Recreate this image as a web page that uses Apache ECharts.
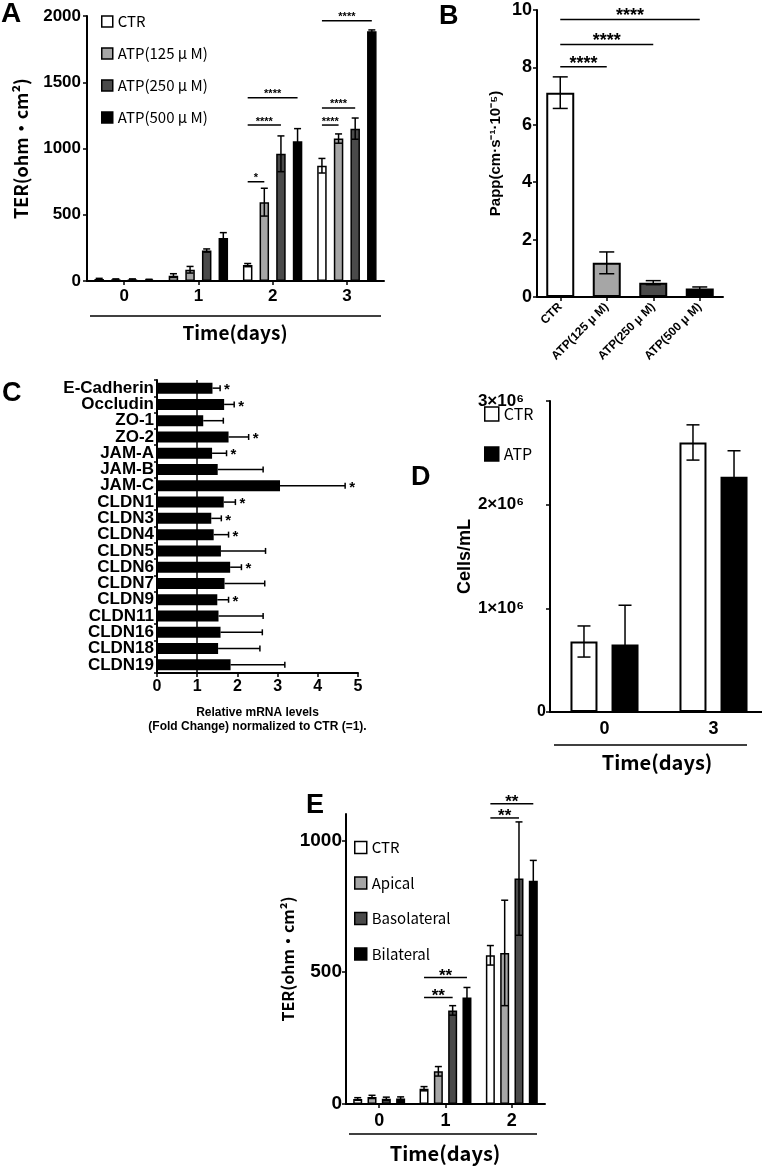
<!DOCTYPE html>
<html>
<head>
<meta charset="utf-8">
<script src="https://cdn.jsdelivr.net/npm/echarts@6/dist/echarts.min.js"></script>
<style>
html, body { margin: 0; padding: 0; background: #fff; }
#main { width: 762px; height: 1168px; }
</style>
</head>
<body>
<div id="main"></div>
<script>
var SANS = '"Liberation Sans", Arial, Helvetica, sans-serif';
var JP = '"Noto Sans CJK JP", "Liberation Sans", sans-serif';

// A: TER with ATP doses
var daysA = ['0', '1', '2', '3'];
var namesA = ['CTR', 'ATP(125 μ M)', 'ATP(250 μ M)', 'ATP(500 μ M)'];
var terCtrA = [15, 40, 120, 870];
var terCtrErrA = [5, 15, 12, 55];
var ter125A = [12, 85, 595, 1075];
var ter125ErrA = [4, 25, 105, 35];
var ter250A = [12, 230, 960, 1150];
var ter250ErrA = [4, 12, 135, 80];
var ter500A = [10, 325, 1055, 1885];
var ter500ErrA = [3, 40, 95, 10];
// [day, bar, day, bar, level, label]
var sigA = [[2, 0, 2, 1, 749, '*'], [2, 0, 2, 2, 1177, '****'], [2, 0, 2, 3, 1383, '****'],
            [3, 0, 3, 1, 1177, '****'], [3, 0, 3, 2, 1306, '****'], [3, 0, 3, 3, 1965, '****']];

// B: permeability
var groupsB = ['CTR', 'ATP(125 μ M)', 'ATP(250 μ M)', 'ATP(500 μ M)'];
var pappB = [7.12, 1.19, 0.5, 0.3];
var pappErrB = [0.55, 0.38, 0.07, 0.05];
var sigB = [[0, 0, 1, 0, 8.02, '****'], [0, 0, 2, 0, 8.8, '****'], [0, 0, 3, 0, 9.67, '****']];

// C: mRNA fold change
var genesC = ['E-Cadherin', 'Occludin', 'ZO-1', 'ZO-2', 'JAM-A', 'JAM-B', 'JAM-C', 'CLDN1', 'CLDN3',
              'CLDN4', 'CLDN5', 'CLDN6', 'CLDN7', 'CLDN9', 'CLDN11', 'CLDN16', 'CLDN18', 'CLDN19'];
var foldC = [1.38, 1.67, 1.15, 1.78, 1.37, 1.51, 3.06, 1.66, 1.35, 1.41, 1.59, 1.82, 1.68, 1.5, 1.53, 1.58, 1.52, 1.83];
var foldErrC = [0.19, 0.25, 0.5, 0.5, 0.36, 1.13, 1.62, 0.29, 0.25, 0.37, 1.11, 0.28, 1.0, 0.28, 1.11, 1.04, 1.04, 1.35];
var starC = ['*', '*', '', '*', '*', '', '*', '*', '*', '*', '', '*', '', '*', '', '', '', ''];

// D: cell counts
var daysD = ['0', '3'];
var cellsCtrD = [680000, 2600000];
var cellsCtrErrD = [150000, 170000];
var cellsAtpD = [650000, 2270000];
var cellsAtpErrD = [380000, 250000];

// E: TER by side of application
var daysE = ['0', '1', '2'];
var namesE = ['CTR', 'Apical', 'Basolateral', 'Bilateral'];
var terCtrE = [19, 58, 564];
var terCtrErrE = [5, 8, 37];
var terApiE = [27, 124, 573];
var terApiErrE = [6, 18, 200];
var terBasoE = [20, 355, 855];
var terBasoErrE = [6, 18, 215];
var terBilaE = [21, 404, 847];
var terBilaErrE = [6, 38, 77];
var sigE = [[1, 0, 1, 2, 404, '**'], [1, 0, 1, 3, 480, '**'], [2, 0, 2, 2, 1085, '**'], [2, 0, 2, 3, 1139, '**']];

// same arithmetic as echarts' bar layout with a fixed barWidth
function barShift(k, n, w, gap) { return (k - (n - 1) / 2) * w * (1 + gap); }

function errData(vals, errs, k) {
  return vals.map(function (v, i) { return [i, v - errs[i], v + errs[i], k]; });
}

var LINE = { stroke: '#000', lineWidth: 1.5 };

function vErr(n, w, gap, cap) {
  return function (params, api) {
    var c = api.value(0);
    var top = api.coord([c, api.value(2)]);
    var bot = api.coord([c, api.value(1)]);
    var x = top[0] + barShift(api.value(3), n, w, gap);
    return { type: 'group', children: [
      { type: 'line', shape: { x1: x, y1: top[1], x2: x, y2: bot[1] }, style: LINE },
      { type: 'line', shape: { x1: x - cap / 2, y1: top[1], x2: x + cap / 2, y2: top[1] }, style: LINE },
      { type: 'line', shape: { x1: x - cap / 2, y1: bot[1], x2: x + cap / 2, y2: bot[1] }, style: LINE }
    ]};
  };
}

function sigRender(list, n, w, gap, size, lift) {
  return function (params, api) {
    var p1 = api.coord([api.value(0), api.value(4)]);
    var p2 = api.coord([api.value(2), api.value(4)]);
    var x1 = p1[0] + barShift(api.value(1), n, w, gap);
    var x2 = p2[0] + barShift(api.value(3), n, w, gap);
    return { type: 'group', children: [
      { type: 'line', shape: { x1: x1, y1: p1[1], x2: x2, y2: p1[1] }, style: LINE },
      { type: 'text', x: (x1 + x2) / 2, y: p1[1] - lift, style: {
        text: list[params.dataIndex][5], fontSize: size, fontWeight: 'bold', fontFamily: SANS,
        fill: '#000', align: 'center', verticalAlign: 'middle' } }
    ]};
  };
}

function sigData(list) { return list.map(function (s) { return s.slice(0, 5); }); }

function bar(name, data, xi, color, w, gap, bw) {
  return { type: 'bar', name: name, data: data, xAxisIndex: xi, yAxisIndex: xi,
    barWidth: w, barGap: gap, itemStyle: { color: color, borderColor: '#000', borderWidth: bw || 1.5 } };
}

function custom(xi, data, render, enc) {
  return { type: 'custom', xAxisIndex: xi, yAxisIndex: xi, data: data, renderItem: render,
    encode: enc, z: 5, silent: true, clip: false };
}

var axisLine = { show: true, lineStyle: { color: '#000', width: 2 } };
var axisTick = { show: true, length: 4, lineStyle: { color: '#000', width: 1.5 } };
function lab(size, margin) {
  return { color: '#000', fontSize: size, fontWeight: 'bold', fontFamily: SANS, margin: margin,
    formatter: function (v) { return String(v); } };
}
function legendBase() {
  return { orient: 'vertical', icon: 'rect', selectedMode: false,
    itemStyle: { borderColor: '#000', borderWidth: 1.5 } };
}

var wA = 9.5, gA = 0.75, wE = 9, gE = 0.59, wD = 27, gD = 0.52;

var option = {
  animation: false,
  backgroundColor: '#fff',
  textStyle: { fontFamily: SANS, color: '#000' },
  grid: [
    { left: 87, top: 16, width: 297, height: 265, outerBoundsMode: 'none' },
    { left: 537, top: 10, width: 186, height: 287, outerBoundsMode: 'none' },
    { left: 157, top: 380, width: 201, height: 293, outerBoundsMode: 'none' },
    { left: 550, top: 401, width: 218, height: 311, outerBoundsMode: 'none' },
    { left: 346, top: 814, width: 199, height: 290, outerBoundsMode: 'none' }
  ],
  legend: [
    Object.assign(legendBase(), { data: namesA, left: 96, top: 9, itemWidth: 11, itemHeight: 11, itemGap: 17,
      textStyle: { fontSize: 15, lineHeight: 14, fontFamily: JP, color: '#000' } }),
    Object.assign(legendBase(), { data: ['CTR', 'ATP'], left: 479, top: 401, itemWidth: 14, itemHeight: 14, itemGap: 24,
      textStyle: { fontSize: 16, lineHeight: 16, fontFamily: JP, color: '#000' } }),
    Object.assign(legendBase(), { data: namesE, left: 349, top: 835, itemWidth: 12, itemHeight: 12, itemGap: 20.5,
      textStyle: { fontSize: 15, lineHeight: 14, fontFamily: JP, color: '#000' } })
  ],
  xAxis: [
    { gridIndex: 0, type: 'category', data: daysA, axisLine: axisLine,
      axisTick: { show: true, alignWithLabel: true, length: 4, lineStyle: { color: '#000', width: 1.5 } },
      axisLabel: lab(17, 7) },
    { gridIndex: 1, type: 'category', data: groupsB, axisLine: axisLine,
      axisTick: { show: true, alignWithLabel: true, length: 4, lineStyle: { color: '#000', width: 1.5 } },
      axisLabel: Object.assign(lab(12, 8), { rotate: 45, interval: 0 }) },
    { gridIndex: 2, type: 'value', min: 0, max: 5, interval: 1, axisLine: axisLine, axisTick: axisTick,
      splitLine: { show: false }, axisLabel: lab(16, 6),
      name: 'Relative mRNA levels\n(Fold Change) normalized to CTR (=1).', nameLocation: 'middle', nameGap: 33,
      nameTextStyle: { fontSize: 12, fontWeight: 'bold', lineHeight: 14, color: '#000', fontFamily: SANS } },
    { gridIndex: 3, type: 'category', data: daysD, axisLine: axisLine, axisTick: { show: false },
      axisLabel: lab(18, 8) },
    { gridIndex: 4, type: 'category', data: daysE, axisLine: axisLine,
      axisTick: { show: true, alignWithLabel: true, length: 4, lineStyle: { color: '#000', width: 1.5 } },
      axisLabel: lab(18, 8) }
  ],
  yAxis: [
    { gridIndex: 0, type: 'value', min: 0, max: 2000, interval: 500, axisLine: axisLine, axisTick: axisTick,
      splitLine: { show: false }, axisLabel: lab(17, 6),
      name: 'TER(ohm・cm²)', nameLocation: 'middle', nameGap: 57,
      nameTextStyle: { fontSize: 18, fontWeight: 'bold', fontFamily: JP, color: '#000' } },
    { gridIndex: 1, type: 'value', min: 0, max: 10, interval: 2, axisLine: axisLine, axisTick: axisTick,
      splitLine: { show: false }, axisLabel: lab(18, 5),
      name: 'Papp(cm·s⁻¹·10⁻⁵)', nameLocation: 'middle', nameGap: 34,
      nameTextStyle: { fontSize: 15, fontWeight: 'bold', fontFamily: SANS, color: '#000' } },
    { gridIndex: 2, type: 'category', data: genesC, inverse: true, axisLine: axisLine,
      axisTick: { show: true, length: 3, lineStyle: { color: '#000', width: 1.5 } },
      axisLabel: Object.assign(lab(17, 3), { interval: 0 }) },
    { gridIndex: 3, type: 'value', min: 0, max: 3000000, interval: 1000000, axisLine: axisLine, axisTick: axisTick,
      splitLine: { show: false },
      axisLabel: Object.assign(lab(16, 4), {
        formatter: function (v) { return v === 0 ? '0' : '{e|' + (v / 1e6) + '×10⁶}'; },
        rich: { e: { fontSize: 17, fontWeight: 'bold', fontFamily: SANS, color: '#000', padding: [0, 22, 0, 0] } }
      }),
      name: 'Cells/mL', nameLocation: 'middle', nameGap: 70,
      nameTextStyle: { fontSize: 18, fontWeight: 'bold', fontFamily: SANS, color: '#000' } },
    { gridIndex: 4, type: 'value', min: 0, max: 1100, interval: 500, axisLine: axisLine,
      axisTick: Object.assign({ customValues: [0, 500, 1000] }, axisTick),
      splitLine: { show: false },
      axisLabel: Object.assign(lab(19, 4), { customValues: [0, 500, 1000],
        formatter: function (v) { return v % 500 === 0 ? String(v) : ''; } }),
      name: 'TER(ohm・cm²)', nameLocation: 'middle', nameGap: 49,
      nameTextStyle: { fontSize: 16, fontWeight: 'bold', fontFamily: JP, color: '#000' } }
  ],
  series: [
    // A
    bar(namesA[0], terCtrA, 0, '#ffffff', wA, '75%'),
    bar(namesA[1], ter125A, 0, '#a6a6a6', wA, '75%'),
    bar(namesA[2], ter250A, 0, '#4a4a4a', wA, '75%'),
    bar(namesA[3], ter500A, 0, '#000000', wA, '75%'),
    custom(0, [].concat(errData(terCtrA, terCtrErrA, 0), errData(ter125A, ter125ErrA, 1),
      errData(ter250A, ter250ErrA, 2), errData(ter500A, ter500ErrA, 3)), vErr(4, wA, gA, 7), { x: 0, y: [1, 2] }),
    custom(0, sigData(sigA), sigRender(sigA, 4, wA, gA, 11, 3.5), { x: [0, 2], y: 4 }),
    // B
    { type: 'bar', name: 'Papp', xAxisIndex: 1, yAxisIndex: 1, barWidth: 28,
      data: pappB.map(function (v, i) {
        return { value: v, itemStyle: { color: ['#ffffff', '#a6a6a6', '#4a4a4a', '#000000'][i] } };
      }),
      itemStyle: { borderColor: '#000', borderWidth: 2 } },
    custom(1, errData(pappB, pappErrB, 0), vErr(1, 28, 0, 15), { x: 0, y: [1, 2] }),
    custom(1, sigData(sigB), sigRender(sigB, 1, 28, 0, 18, 3), { x: [0, 2], y: 4 }),
    // C
    { type: 'bar', name: 'fold', xAxisIndex: 2, yAxisIndex: 2, barWidth: 11, data: foldC,
      itemStyle: { color: '#000' },
      markLine: { symbol: 'none', silent: true, label: { show: false },
        lineStyle: { color: '#000', width: 1.5, type: 'solid' }, data: [{ xAxis: 1 }] } },
    custom(2, foldC.map(function (v, i) { return [i, v, v + foldErrC[i]]; }), function (params, api) {
      var a = api.coord([api.value(1), api.value(0)]);
      var b = api.coord([api.value(2), api.value(0)]);
      var kids = [
        { type: 'line', shape: { x1: a[0], y1: a[1], x2: b[0], y2: b[1] }, style: LINE },
        { type: 'line', shape: { x1: b[0], y1: b[1] - 3, x2: b[0], y2: b[1] + 3 }, style: LINE }
      ];
      if (starC[params.dataIndex]) {
        kids.push({ type: 'text', x: b[0] + 4, y: b[1] + 2, style: { text: starC[params.dataIndex],
          fontSize: 15, fontWeight: 'bold', fontFamily: SANS, fill: '#000', align: 'left', verticalAlign: 'middle' } });
      }
      return { type: 'group', children: kids };
    }, { x: [1, 2], y: 0 }),
    // D
    bar('CTR', cellsCtrD, 3, '#ffffff', wD, '52%', 2),
    bar('ATP', cellsAtpD, 3, '#000000', wD, '52%', 2),
    custom(3, [].concat(errData(cellsCtrD, cellsCtrErrD, 0), errData(cellsAtpD, cellsAtpErrD, 1)),
      vErr(2, wD, gD, 13), { x: 0, y: [1, 2] }),
    // E
    bar(namesE[0], terCtrE, 4, '#ffffff', wE, '59%'),
    bar(namesE[1], terApiE, 4, '#a6a6a6', wE, '59%'),
    bar(namesE[2], terBasoE, 4, '#4a4a4a', wE, '59%'),
    bar(namesE[3], terBilaE, 4, '#000000', wE, '59%'),
    custom(4, [].concat(errData(terCtrE, terCtrErrE, 0), errData(terApiE, terApiErrE, 1),
      errData(terBasoE, terBasoErrE, 2), errData(terBilaE, terBilaErrE, 3)), vErr(4, wE, gE, 7), { x: 0, y: [1, 2] }),
    custom(4, sigData(sigE), sigRender(sigE, 4, wE, gE, 17, 1.5), { x: [0, 2], y: 4 })
  ],
  graphic: [
    { type: 'text', left: 1, top: 0, style: { text: 'A', font: 'bold 28px ' + SANS, fill: '#000' } },
    { type: 'text', left: 439, top: 3, style: { text: 'B', font: 'bold 27px ' + SANS, fill: '#000' } },
    { type: 'text', left: 2, top: 380, style: { text: 'C', font: 'bold 27px ' + SANS, fill: '#000' } },
    { type: 'text', left: 411, top: 464, style: { text: 'D', font: 'bold 27px ' + SANS, fill: '#000' } },
    { type: 'text', left: 306, top: 792, style: { text: 'E', font: 'bold 27px ' + SANS, fill: '#000' } },
    { type: 'line', shape: { x1: 90, y1: 316, x2: 381, y2: 316 }, style: LINE },
    { type: 'text', x: 235, y: 333, style: { text: 'Time(days)', font: 'bold 19px ' + JP, fill: '#000',
      align: 'center', verticalAlign: 'middle' } },
    { type: 'line', shape: { x1: 554, y1: 745, x2: 747, y2: 745 }, style: LINE },
    { type: 'text', x: 657, y: 762, style: { text: 'Time(days)', font: 'bold 20px ' + JP, fill: '#000',
      align: 'center', verticalAlign: 'middle' } },
    { type: 'line', shape: { x1: 349, y1: 1134, x2: 537, y2: 1134 }, style: LINE },
    { type: 'text', x: 445, y: 1153, style: { text: 'Time(days)', font: 'bold 20px ' + JP, fill: '#000',
      align: 'center', verticalAlign: 'middle' } }
  ]
};

var myChart = echarts.init(document.getElementById('main'));
myChart.setOption(option);
</script>
</body>
</html>
